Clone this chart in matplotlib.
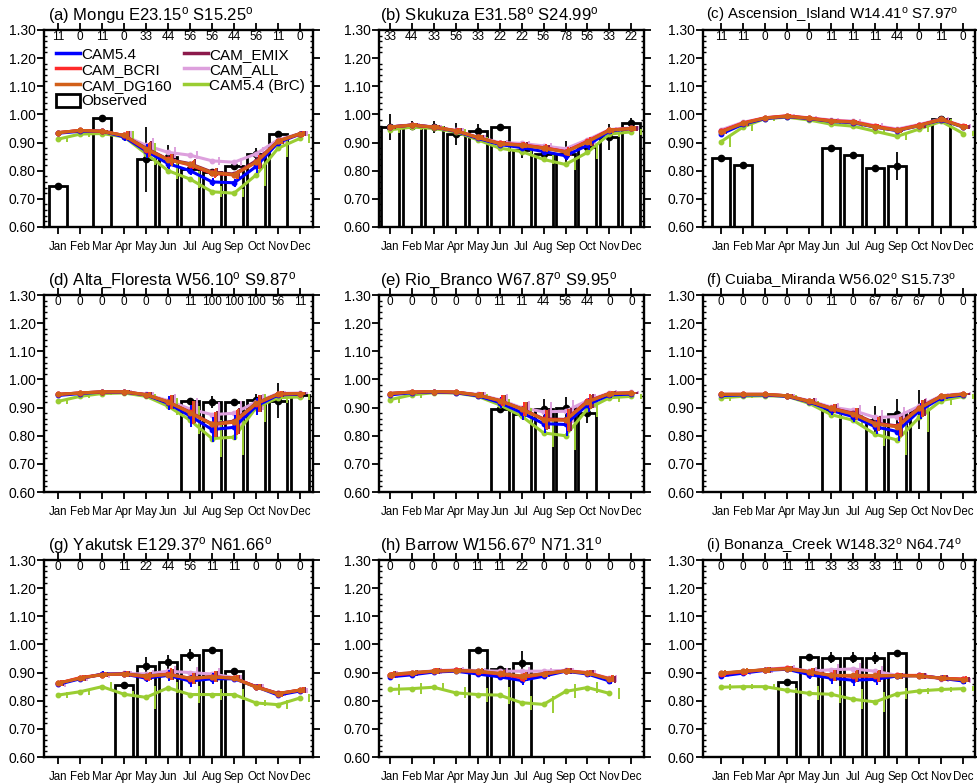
import numpy as np
import matplotlib.pyplot as plt
from matplotlib.lines import Line2D
from matplotlib.patches import Patch
from matplotlib.ticker import MultipleLocator, FixedLocator

plt.rcParams['font.family'] = ['Liberation Sans', 'DejaVu Sans']
plt.rcParams['mathtext.default'] = 'regular'

nan = np.nan

months = ['Jan', 'Feb', 'Mar', 'Apr', 'May', 'Jun', 'Jul', 'Aug', 'Sep', 'Oct', 'Nov', 'Dec']

titles = ['(a) Mongu E23.15$^o$ S15.25$^o$',
	'(b) Skukuza E31.58$^o$ S24.99$^o$',
	'(c) Ascension_Island W14.41$^o$ S7.97$^o$',
	'(d) Alta_Floresta W56.10$^o$ S9.87$^o$',
	'(e) Rio_Branco W67.87$^o$ S9.95$^o$',
	'(f) Cuiaba_Miranda W56.02$^o$ S15.73$^o$',
	'(g) Yakutsk E129.37$^o$ N61.66$^o$',
	'(h) Barrow W156.67$^o$ N71.31$^o$',
	'(i) Bonanza_Creek W148.32$^o$ N64.74$^o$']

# Percentage of days with retrievals, printed along the top of each panel
counts = [[11, 0, 11, 0, 33, 44, 56, 56, 44, 56, 11, 0],
	[33, 44, 33, 56, 33, 22, 22, 56, 78, 56, 33, 22],
	[11, 11, 0, 0, 0, 11, 11, 11, 44, 0, 11, 0],
	[0, 0, 0, 0, 0, 0, 11, 100, 100, 100, 56, 11],
	[0, 0, 0, 0, 0, 11, 11, 44, 56, 44, 0, 0],
	[0, 0, 0, 0, 0, 11, 0, 67, 67, 67, 0, 0],
	[0, 0, 0, 11, 22, 44, 56, 11, 11, 0, 0, 0],
	[0, 0, 0, 0, 11, 11, 22, 0, 0, 0, 0, 0],
	[0, 0, 0, 11, 11, 33, 33, 33, 11, 0, 0, 0]]

# Observed monthly SSA and its spread
obs = [[0.745, nan, 0.987, nan, 0.84, 0.85, 0.805, 0.795, 0.815, 0.86, 0.93, nan],
	[0.955, 0.96, 0.955, 0.93, 0.94, 0.955, 0.875, 0.86, 0.86, 0.885, 0.92, 0.968],
	[0.845, 0.82, nan, nan, nan, 0.882, 0.856, 0.81, 0.818, nan, 0.982, nan],
	[nan, nan, nan, nan, nan, nan, 0.924, 0.92, 0.92, 0.927, 0.925, 0.945],
	[nan, nan, nan, nan, nan, 0.895, 0.876, 0.895, 0.897, 0.882, nan, nan],
	[nan, nan, nan, nan, nan, 0.893, nan, 0.857, 0.876, 0.893, nan, nan],
	[nan, nan, nan, 0.857, 0.922, 0.937, 0.963, 0.98, 0.906, nan, nan, nan],
	[nan, nan, nan, nan, 0.98, 0.911, 0.933, nan, nan, nan, nan, nan],
	[nan, nan, nan, 0.865, 0.955, 0.953, 0.953, 0.952, 0.968, nan, nan, nan]]

obs_err = [[0.004, 0, 0.004, 0, 0.115, 0.04, 0.01, 0.01, 0.01, 0.02, 0.004, 0],
	[0.045, 0.015, 0.02, 0.04, 0.025, 0.005, 0.03, 0.03, 0.045, 0.02, 0.045, 0.02],
	[0.004, 0.004, 0, 0, 0, 0.004, 0.004, 0.004, 0.05, 0, 0.004, 0],
	[0, 0, 0, 0, 0, 0, 0.005, 0.02, 0.01, 0.02, 0.063, 0.005],
	[0, 0, 0, 0, 0, 0.005, 0.01, 0.035, 0.04, 0.035, 0, 0],
	[0, 0, 0, 0, 0, 0.005, 0, 0.05, 0.055, 0.07, 0, 0],
	[0, 0, 0, 0.005, 0.035, 0.025, 0.022, 0.005, 0.005, 0, 0, 0],
	[0, 0, 0, 0, 0.004, 0.004, 0.045, 0, 0, 0, 0, 0],
	[0, 0, 0, 0.004, 0.004, 0.02, 0.02, 0.022, 0.004, 0, 0, 0]]

# Model runs
cam54 = [[0.933, 0.94, 0.94, 0.92, 0.87, 0.825, 0.80, 0.76, 0.757, 0.815, 0.90, 0.93],
	[0.955, 0.962, 0.955, 0.94, 0.915, 0.893, 0.882, 0.868, 0.853, 0.89, 0.94, 0.95],
	[0.93, 0.965, 0.985, 0.992, 0.985, 0.975, 0.97, 0.955, 0.942, 0.96, 0.98, 0.955],
	[0.943, 0.95, 0.955, 0.955, 0.945, 0.915, 0.87, 0.822, 0.83, 0.905, 0.945, 0.948],
	[0.945, 0.953, 0.955, 0.953, 0.942, 0.918, 0.882, 0.843, 0.84, 0.91, 0.945, 0.948],
	[0.943, 0.945, 0.945, 0.94, 0.92, 0.89, 0.868, 0.832, 0.815, 0.888, 0.935, 0.945],
	[0.858, 0.878, 0.895, 0.895, 0.88, 0.89, 0.87, 0.878, 0.878, 0.85, 0.82, 0.835],
	[0.885, 0.892, 0.902, 0.905, 0.895, 0.885, 0.872, 0.887, 0.905, 0.895, 0.87, nan],
	[0.888, 0.898, 0.908, 0.912, 0.893, 0.88, 0.873, 0.876, 0.888, 0.89, 0.88, 0.87]]

cam_bcri = [[0.935, 0.943, 0.94, 0.925, 0.875, 0.84, 0.82, 0.79, 0.785, 0.83, 0.905, 0.93],
	[0.955, 0.962, 0.955, 0.942, 0.918, 0.897, 0.892, 0.882, 0.868, 0.905, 0.945, 0.95],
	[0.94, 0.97, 0.988, 0.995, 0.987, 0.978, 0.974, 0.958, 0.945, 0.962, 0.982, 0.957],
	[0.947, 0.952, 0.956, 0.956, 0.946, 0.92, 0.883, 0.84, 0.848, 0.913, 0.948, 0.95],
	[0.95, 0.955, 0.957, 0.955, 0.945, 0.925, 0.895, 0.858, 0.856, 0.922, 0.95, 0.952],
	[0.947, 0.947, 0.947, 0.942, 0.922, 0.898, 0.878, 0.843, 0.833, 0.898, 0.94, 0.948],
	[0.862, 0.882, 0.893, 0.895, 0.885, 0.895, 0.878, 0.885, 0.88, 0.85, 0.825, 0.838],
	[0.89, 0.897, 0.905, 0.908, 0.903, 0.895, 0.882, 0.895, 0.906, 0.9, 0.878, nan],
	[0.895, 0.903, 0.91, 0.915, 0.903, 0.89, 0.887, 0.887, 0.89, 0.89, 0.88, 0.877]]

cam_dg160 = [[0.935, 0.943, 0.94, 0.925, 0.878, 0.838, 0.823, 0.793, 0.786, 0.83, 0.905, 0.932],
	[0.955, 0.962, 0.955, 0.942, 0.918, 0.896, 0.89, 0.88, 0.866, 0.902, 0.943, 0.95],
	[0.937, 0.968, 0.987, 0.993, 0.986, 0.976, 0.972, 0.955, 0.943, 0.96, 0.982, 0.955],
	[0.947, 0.952, 0.956, 0.956, 0.946, 0.92, 0.882, 0.84, 0.85, 0.915, 0.948, 0.95],
	[0.95, 0.955, 0.957, 0.955, 0.945, 0.925, 0.895, 0.857, 0.855, 0.92, 0.95, 0.952],
	[0.947, 0.947, 0.947, 0.942, 0.922, 0.897, 0.877, 0.842, 0.832, 0.897, 0.94, 0.948],
	[0.862, 0.88, 0.893, 0.895, 0.888, 0.893, 0.88, 0.885, 0.88, 0.848, 0.825, 0.838],
	[0.893, 0.9, 0.905, 0.907, 0.905, 0.897, 0.888, 0.895, 0.906, 0.898, 0.878, nan],
	[0.898, 0.905, 0.91, 0.913, 0.903, 0.89, 0.89, 0.89, 0.889, 0.888, 0.88, 0.875]]

cam_emix = [[0.935, 0.943, 0.94, 0.925, 0.88, 0.84, 0.825, 0.795, 0.788, 0.835, 0.905, 0.932],
	[0.955, 0.962, 0.955, 0.942, 0.918, 0.897, 0.891, 0.881, 0.868, 0.903, 0.944, 0.95],
	[0.94, 0.968, 0.987, 0.994, 0.986, 0.977, 0.972, 0.956, 0.944, 0.961, 0.982, 0.956],
	[0.947, 0.952, 0.956, 0.956, 0.946, 0.92, 0.884, 0.842, 0.852, 0.916, 0.948, 0.95],
	[0.95, 0.955, 0.957, 0.955, 0.945, 0.925, 0.896, 0.86, 0.858, 0.922, 0.95, 0.952],
	[0.947, 0.947, 0.947, 0.942, 0.923, 0.898, 0.88, 0.845, 0.835, 0.9, 0.94, 0.948],
	[0.862, 0.88, 0.893, 0.896, 0.888, 0.894, 0.88, 0.886, 0.88, 0.85, 0.826, 0.838],
	[0.892, 0.898, 0.905, 0.908, 0.904, 0.896, 0.886, 0.896, 0.906, 0.898, 0.876, nan],
	[0.897, 0.904, 0.91, 0.914, 0.903, 0.89, 0.888, 0.888, 0.889, 0.889, 0.88, 0.876]]

cam_all = [[0.935, 0.942, 0.94, 0.925, 0.89, 0.865, 0.855, 0.835, 0.83, 0.86, 0.91, 0.932],
	[0.956, 0.963, 0.956, 0.943, 0.92, 0.90, 0.897, 0.888, 0.878, 0.91, 0.946, 0.952],
	[0.945, 0.972, 0.988, 0.995, 0.988, 0.98, 0.976, 0.96, 0.948, 0.964, 0.984, 0.958],
	[0.947, 0.952, 0.956, 0.956, 0.947, 0.925, 0.895, 0.875, 0.88, 0.92, 0.95, 0.952],
	[0.95, 0.955, 0.957, 0.955, 0.947, 0.928, 0.90, 0.885, 0.887, 0.925, 0.952, 0.954],
	[0.947, 0.947, 0.947, 0.942, 0.925, 0.902, 0.89, 0.865, 0.868, 0.905, 0.942, 0.95],
	[0.86, 0.88, 0.892, 0.897, 0.895, 0.905, 0.90, 0.895, 0.882, 0.848, 0.826, 0.836],
	[0.893, 0.90, 0.906, 0.91, 0.907, 0.905, 0.905, 0.905, 0.908, 0.90, 0.88, nan],
	[0.895, 0.903, 0.91, 0.918, 0.905, 0.91, 0.913, 0.905, 0.89, 0.888, 0.878, 0.872]]

cam_brc = [[0.912, 0.93, 0.932, 0.92, 0.86, 0.80, 0.77, 0.725, 0.72, 0.785, 0.88, 0.915],
	[0.945, 0.955, 0.95, 0.937, 0.91, 0.88, 0.868, 0.84, 0.822, 0.865, 0.93, 0.938],
	[0.903, 0.955, 0.985, 0.99, 0.98, 0.965, 0.958, 0.94, 0.922, 0.948, 0.975, 0.932],
	[0.922, 0.94, 0.95, 0.952, 0.94, 0.905, 0.855, 0.79, 0.795, 0.90, 0.935, 0.938],
	[0.928, 0.945, 0.953, 0.952, 0.94, 0.91, 0.87, 0.81, 0.80, 0.895, 0.935, 0.94],
	[0.935, 0.94, 0.942, 0.94, 0.915, 0.875, 0.855, 0.805, 0.785, 0.865, 0.925, 0.94],
	[0.82, 0.832, 0.85, 0.823, 0.812, 0.846, 0.822, 0.822, 0.822, 0.792, 0.786, 0.81],
	[0.84, 0.843, 0.848, 0.828, 0.822, 0.82, 0.793, 0.787, 0.833, 0.847, 0.826, nan],
	[0.848, 0.85, 0.85, 0.837, 0.826, 0.823, 0.805, 0.796, 0.825, 0.835, 0.84, 0.843]]

# Spread of the model runs (shared by the CAM runs) and of the BrC run
err_cam = [[0.005, 0.005, 0.005, 0.015, 0.025, 0.02, 0.015, 0.015, 0.015, 0.025, 0.01, 0.01],
	[0.008, 0.008, 0.008, 0.008, 0.008, 0.01, 0.01, 0.012, 0.015, 0.015, 0.008, 0.008],
	[0.008, 0.008, 0.005, 0.005, 0.005, 0.006, 0.006, 0.008, 0.008, 0.008, 0.006, 0.008],
	[0.005, 0.005, 0.005, 0.005, 0.01, 0.025, 0.04, 0.045, 0.045, 0.03, 0.01, 0.005],
	[0.005, 0.005, 0.005, 0.005, 0.01, 0.02, 0.025, 0.035, 0.04, 0.025, 0.01, 0.005],
	[0.005, 0.005, 0.005, 0.005, 0.01, 0.015, 0.02, 0.025, 0.035, 0.03, 0.01, 0.005],
	[0.01, 0.01, 0.01, 0.01, 0.015, 0.02, 0.02, 0.02, 0.01, 0.01, 0.01, 0.01],
	[0.012, 0.01, 0.01, 0.01, 0.01, 0.012, 0.015, 0.01, 0.01, 0.01, 0.012, nan],
	[0.01, 0.01, 0.01, 0.01, 0.015, 0.02, 0.02, 0.02, 0.01, 0.01, 0.01, 0.01]]

err_brc = [[0.01, 0.01, 0.01, 0.02, 0.04, 0.03, 0.03, 0.02, 0.015, 0.04, 0.03, 0.015],
	[0.01, 0.01, 0.01, 0.01, 0.01, 0.012, 0.015, 0.015, 0.02, 0.025, 0.012, 0.01],
	[0.02, 0.015, 0.01, 0.008, 0.008, 0.008, 0.008, 0.01, 0.012, 0.012, 0.01, 0.01],
	[0.01, 0.005, 0.005, 0.005, 0.01, 0.03, 0.05, 0.065, 0.065, 0.05, 0.02, 0.01],
	[0.01, 0.01, 0.005, 0.005, 0.01, 0.02, 0.03, 0.05, 0.05, 0.03, 0.015, 0.01],
	[0.01, 0.005, 0.005, 0.005, 0.01, 0.015, 0.02, 0.04, 0.055, 0.05, 0.015, 0.01],
	[0.01, 0.01, 0.015, 0.01, 0.04, 0.02, 0.03, 0.02, 0.02, 0.01, 0.015, 0.015],
	[0.02, 0.02, 0.015, 0.02, 0.025, 0.03, 0.025, 0.03, 0.025, 0.02, 0.02, nan],
	[0.01, 0.01, 0.01, 0.01, 0.025, 0.03, 0.035, 0.035, 0.02, 0.01, 0.01, 0.01]]

# name, values, spread, colour, x shift of the spread bar (draw order)
runs = [('CAM_ALL', cam_all, err_cam, '#dda0dd', 0.32),
	('CAM5.4 (BrC)', cam_brc, err_brc, '#9acd32', 0.42),
	('CAM_EMIX', cam_emix, err_cam, '#8c1a4b', 0.24),
	('CAM5.4', cam54, err_cam, '#0000ff', 0.06),
	('CAM_BCRI', cam_bcri, err_cam, '#ff2a2a', 0.12),
	('CAM_DG160', cam_dg160, err_cam, '#d2601a', 0.18)]
legend_order = ['CAM5.4', 'CAM_BCRI', 'CAM_DG160', 'CAM_EMIX', 'CAM_ALL', 'CAM5.4 (BrC)']

# panel placement in figure fractions
col_left = [0.0450, 0.3879, 0.7195]
col_width = [0.2753, 0.2712, 0.2784]
row_bottom = [0.7105, 0.3724, 0.0344]
height = 0.2513
col_xlim = [(0.36, 12.58), (0.51, 12.57), (0.18, 12.53)]
title_dx = [0.015, 0.004, 0.01]
title_size = [12, 12, 10.8]


def plot_site(ax, k, col):
	x = np.arange(1, 13)

	# Observed bars with their spread
	ob = np.array(obs[k])
	oe = np.array(obs_err[k])
	ok = ~np.isnan(ob)
	ax.bar(x[ok], ob[ok], width=0.82, bottom=0, color='white', edgecolor='black',
		linewidth=2, zorder=2)
	ax.errorbar(x[ok], ob[ok], yerr=oe[ok], fmt='o', color='black', ms=4.5,
		elinewidth=1.3, capsize=0, zorder=2.5)

	# Model lines, spread drawn a little to the right of each month
	for name, vals, errs, color, shift in runs:
		v = np.array(vals[k])
		e = np.array(errs[k])
		ax.plot(x, v, color=color, lw=2.2, marker='o', ms=3.2, zorder=3)
		ax.errorbar(x + shift, v, yerr=e, fmt='none', ecolor=color,
			elinewidth=1.4, capsize=0, zorder=3)

	# Percent of days printed along the top
	for m in range(12):
		ax.text(x[m], 1.275, str(counts[k][m]), ha='center', va='center', fontsize=8.5)

	ax.set_xlim(col_xlim[col])
	ax.set_ylim(0.6, 1.3)
	ax.set_xticks(x)
	ax.set_xticklabels(months, fontsize=8.3)
	yt = np.arange(0.6, 1.31, 0.1)
	ax.yaxis.set_major_locator(FixedLocator(yt))
	ax.set_yticklabels(['%.2f' % v for v in yt], fontsize=10)
	ax.yaxis.set_minor_locator(MultipleLocator(0.02))
	ax.tick_params(axis='x', which='major', direction='out', length=5, width=1.3,
		top=True, pad=5)
	ax.tick_params(axis='y', which='major', direction='out', length=5, width=1.3,
		right=True, pad=1)
	ax.tick_params(axis='y', which='minor', direction='in', length=2.5, width=1,
		right=True)
	for sp in ax.spines.values():
		sp.set_linewidth(1.7)

	ax.text(title_dx[col], 1.05, titles[k], transform=ax.transAxes, ha='left',
		va='baseline', fontsize=title_size[col])


def add_legend(ax):
	colors = {r[0]: r[3] for r in runs}
	handles = [Line2D([], [], color=colors[n], lw=2.5) for n in legend_order]
	labels = list(legend_order)
	# Observed box goes under the first column
	handles.insert(3, Patch(facecolor='white', edgecolor='black', linewidth=2))
	labels.insert(3, 'Observed')
	ax.legend(handles, labels, loc='upper left', bbox_to_anchor=(0.045, 0.915), ncol=2,
		frameon=False, fontsize=11, handlelength=1.55, handleheight=0.95,
		handletextpad=0.1, columnspacing=0.8, labelspacing=0.05, borderpad=0,
		borderaxespad=0)


def main():
	fig = plt.figure(figsize=(9.77, 7.84), dpi=100)
	for k in range(9):
		row, col = divmod(k, 3)
		ax = fig.add_axes([col_left[col], row_bottom[row], col_width[col], height])
		plot_site(ax, k, col)
		if k == 0:
			add_legend(ax)
	fig.savefig('out.png', dpi=100)


if __name__ == '__main__':
	main()
